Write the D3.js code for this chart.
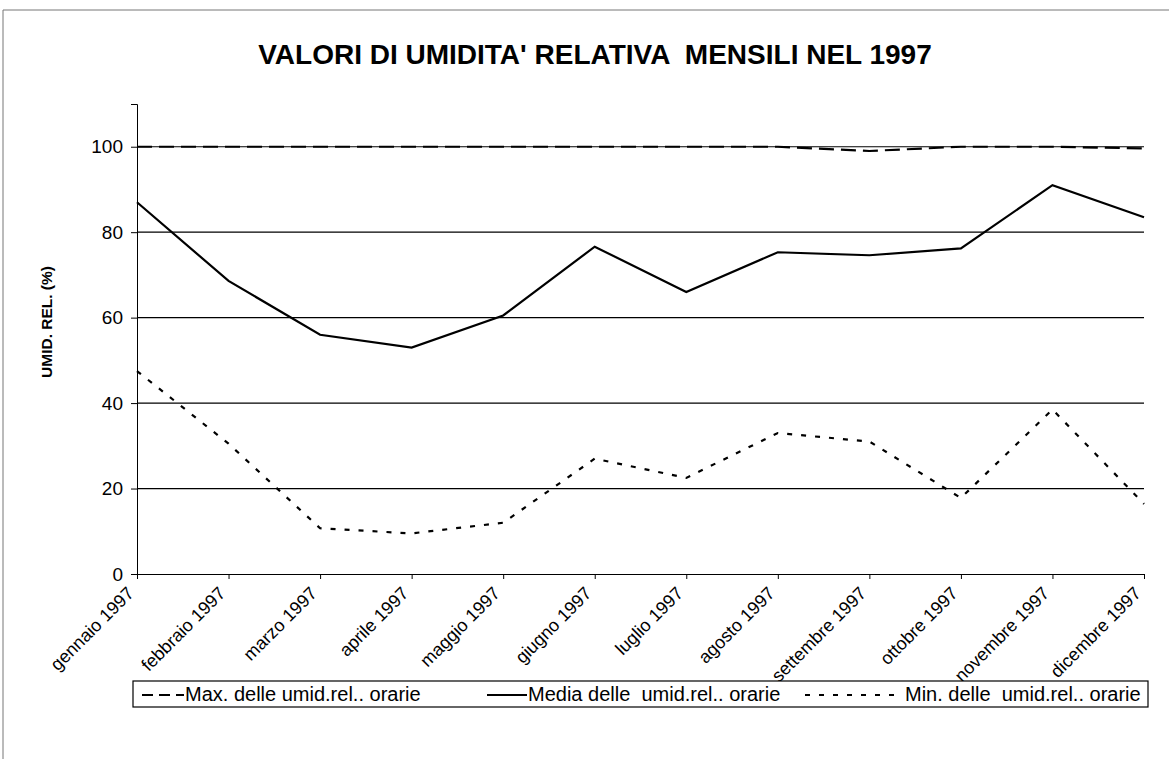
<!DOCTYPE html>
<html>
<head>
<meta charset="utf-8">
<script src="https://cdn.jsdelivr.net/npm/d3@7"></script>
<style>
  body { margin: 0; background: #fff; }
  text { font-family: "Liberation Sans", Arial, sans-serif; }
</style>
</head>
<body>
<script>
var months = ["gennaio 1997","febbraio 1997","marzo 1997","aprile 1997","maggio 1997","giugno 1997",
              "luglio 1997","agosto 1997","settembre 1997","ottobre 1997","novembre 1997","dicembre 1997"];
var maxValues = [100, 100, 100, 100, 100, 100, 100, 100, 99, 100, 100, 99.6];
var meanValues = [87, 68.6, 56, 53, 60.5, 76.6, 66, 75.3, 74.6, 76.2, 91, 83.5];
var minValues = [47.5, 30.5, 10.7, 9.5, 12, 27, 22.5, 33, 31, 17.8, 38.5, 16.4];
var yTicks = [0, 20, 40, 60, 80, 100];
var legendLabels = ["Max. delle umid.rel.. orarie", "Media delle  umid.rel.. orarie", "Min. delle  umid.rel.. orarie"];

var width = 1169, height = 759;
var svg = d3.select("body").append("svg")
  .attr("width", width)
  .attr("height", height);

// bordo del foglio (solo sopra e a sinistra, come nella scansione)
svg.append("path")
  .attr("d", "M3,759 L3,10 L1169,10")
  .style("fill", "none").style("stroke", "#777").style("stroke-width", 1);

var x = d3.scalePoint().domain(months).range([137, 1144]);
var y = d3.scaleLinear().domain([0, 110]).range([574, 104]);

// titolo
svg.append("text")
  .attr("x", 595).attr("y", 64)
  .attr("text-anchor", "middle")
  .attr("font-weight", "bold")
  .attr("font-size", "28px")
  .style("white-space", "pre")
  .text("VALORI DI UMIDITA' RELATIVA  MENSILI NEL 1997");

// griglia
svg.selectAll("line.grid")
  .data(yTicks.filter(function(d){ return d > 0; }))
  .enter().append("line")
  .attr("class", "grid")
  .attr("x1", 137).attr("x2", 1144)
  .attr("y1", function(d){ return y(d); })
  .attr("y2", function(d){ return y(d); })
  .style("stroke", "#000").style("stroke-width", 1.2);

// asse y
var yAxis = svg.append("g")
  .attr("transform", "translate(137,0)")
  .call(d3.axisLeft(y).tickValues(yTicks).tickSize(6).tickPadding(8));
yAxis.selectAll("text").attr("font-size", "19px").attr("fill", "#000");
yAxis.select(".domain").style("stroke", "#000");

// asse x
var xAxis = svg.append("g")
  .attr("transform", "translate(0,574)")
  .call(d3.axisBottom(x).tickSize(5).tickSizeOuter(0));
xAxis.select(".domain").style("stroke", "#000").style("stroke-width", 1.2);
xAxis.selectAll("text")
  .attr("font-size", "18px")
  .attr("fill", "#000")
  .attr("text-anchor", "end")
  .attr("dy", "0.3em")
  .attr("transform", "translate(-12,11) rotate(-45)");

// titolo asse y
svg.append("text")
  .attr("transform", "translate(52,322) rotate(-90)")
  .attr("text-anchor", "middle")
  .attr("font-weight", "bold")
  .attr("font-size", "15.5px")
  .text("UMID. REL. (%)");

var line = d3.line()
  .x(function(d, i){ return x(months[i]); })
  .y(function(d){ return y(d); });

var series = [
  { values: maxValues, dash: "15,7" },
  { values: meanValues, dash: null },
  { values: minValues, dash: "5,9" }
];

series.forEach(function(s){
  svg.append("path")
    .datum(s.values)
    .attr("d", line)
    .style("fill", "none")
    .style("stroke", "#000")
    .style("stroke-width", 2.2)
    .style("stroke-dasharray", s.dash);
});

// legenda
var legend = svg.append("g");
legend.append("rect")
  .attr("x", 133).attr("y", 681)
  .attr("width", 1015).attr("height", 26)
  .style("fill", "#fff").style("stroke", "#000").style("stroke-width", 1.2);

var legendX = [[142, 185, 42], [487, 528, 40], [805, 905, 95]];
series.forEach(function(s, i){
  legend.append("line")
    .attr("x1", legendX[i][0]).attr("x2", legendX[i][0] + legendX[i][2])
    .attr("y1", 695).attr("y2", 695)
    .style("stroke", "#000").style("stroke-width", 2)
    .style("stroke-dasharray", i == 0 ? "11,6" : s.dash);
  legend.append("text")
    .attr("x", legendX[i][1]).attr("y", 701)
    .attr("font-size", "20px")
    .style("white-space", "pre")
    .text(legendLabels[i]);
});
</script>
</body>
</html>
